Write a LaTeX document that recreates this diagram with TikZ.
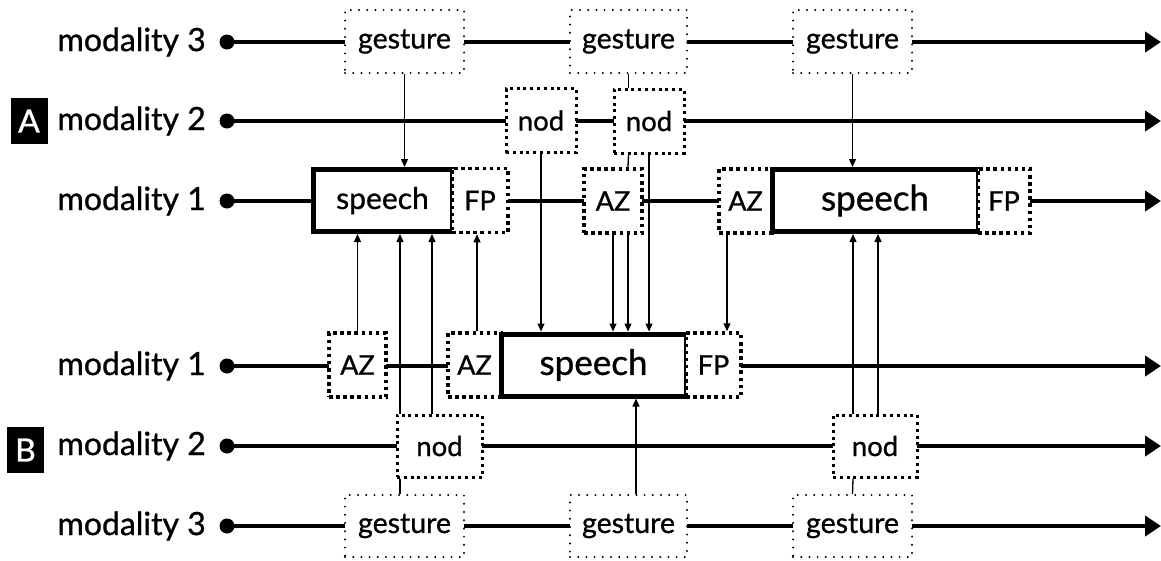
\documentclass[tikz,border=0pt]{standalone}
\usepackage{fontspec}
\setmainfont{Lato}[FakeBold=0.9]
\usetikzlibrary{arrows.meta}
\begin{document}
\begin{tikzpicture}[x=1pt,y=-1pt,
  fs/.style={font=\fontsize{#1}{#1}\selectfont},
  lbl/.style={anchor=east,inner sep=0pt,fs=32},
  tag/.style={fill=black,text=white,inner sep=0pt,minimum width=37pt,minimum height=46pt,fs=32},
  startdot/.style={circle,fill=black,inner sep=0pt,minimum size=15pt},
  timeline/.style={line width=4pt,-{Triangle[length=16pt,width=20pt]}},
  box/.style={fill=white,inner sep=0pt,minimum height=64pt},
  gbox/.style={box,draw,line width=2.2pt,line cap=round,dash pattern=on 0pt off 8.2pt,fs=28.5,minimum height=63pt},
  nbox/.style={box,draw,line width=3pt,dash pattern=on 3pt off 3.8pt,fs=27.5},
  zbox/.style={box,draw,line width=3.5pt,dash pattern=on 3.5pt off 3.6pt,fs=27},
  sbox/.style={box,draw,line width=5pt,minimum height=62pt},
  thin/.style={line width=1.3pt},
  arr/.style={thin,-{Triangle[length=8pt,width=7pt]}}
]
\useasboundingbox (0,0) rectangle (1161,560);
% ---------- labels ----------
\node[tag] (tagA) at (29,121) {A};
\node[tag] (tagB) at (25.5,450) {B};
\node[lbl] (lA3) at (206,42) {modality 3};
\node[lbl] (lA2) at (206,121) {modality 2};
\node[lbl] (lA1) at (206,201) {modality 1};
\node[lbl] (lB1) at (206,366) {modality 1};
\node[lbl] (lB2) at (206,446) {modality 2};
\node[lbl] (lB3) at (206,526) {modality 3};
% ---------- timelines ----------
\foreach \n/\y in {A3/42,A2/121,A1/201,B1/366,B2/446,B3/526}{
  \node[startdot] (d\n) at (227,\y) {};
  \coordinate (e\n) at (1161,\y);
  \draw[timeline] (d\n.center) -- (e\n);
}
% ---------- A boxes ----------
\node[gbox,minimum width=119pt] (gA1) at (404.5,41.5) {gesture};
\node[gbox,minimum width=117pt] (gA2) at (628.5,41.5) {gesture};
\node[gbox,minimum width=119pt] (gA3) at (852.5,41.5) {gesture};
\node[nbox,minimum width=70pt] (nA1) at (541,120.5) {nod};
\node[nbox,minimum width=70pt] (nA2) at (649,121) {nod};
\node[sbox,minimum width=139pt,fs=30] (sA1) at (382.5,200.5) {speech};
\node[zbox,minimum width=56pt] (fA1) at (480,200.5) {FP};
\node[zbox,minimum width=58pt] (zA1) at (613,201) {AZ};
\node[zbox,minimum width=53pt] (zA2) at (745.5,201) {AZ};
\node[sbox,minimum width=206pt,fs=35] (sA2) at (875,200.5) {speech};
\node[zbox,minimum width=52pt] (fA2) at (1004,201) {FP};
% ---------- B boxes ----------
\node[zbox,minimum width=57pt] (zB1) at (357.5,365) {AZ};
\node[zbox,minimum width=53pt] (zB2) at (474.5,365) {AZ};
\node[sbox,minimum width=185pt,fs=35] (sB) at (593.5,365) {speech};
\node[zbox,minimum width=55pt] (fB) at (713.5,365) {FP};
\node[nbox,minimum width=85pt,minimum height=62pt] (nB1) at (439.5,446) {nod};
\node[nbox,minimum width=84pt,minimum height=62pt] (nB2) at (875,446) {nod};
\node[gbox,minimum width=119pt,minimum height=62pt] (gB1) at (404.5,526) {gesture};
\node[gbox,minimum width=117pt,minimum height=62pt] (gB2) at (628.5,526) {gesture};
\node[gbox,minimum width=119pt,minimum height=62pt] (gB3) at (852.5,526) {gesture};
% ---------- connectors, A to A/B ----------
\draw[arr] (gA1.south) -- (gA1.south |- sA1.north);
\draw[thin] (gA2.south) -- ([xshift=-20.5pt]nA2.north);
\draw[thin] ([xshift=-20.5pt]nA2.south) -- ([xshift=15pt]zA1.north);
\draw[arr] (zA1.south) -- (zA1.south |- sB.north);
\draw[arr] ([xshift=15pt]zA1.south) -- ([xshift=15pt]zA1.south |- sB.north);
\draw[arr] (nA2.south) -- (nA2.south |- sB.north);
\draw[arr] (nA1.south) -- (nA1.south |- sB.north);
\draw[arr] (gA3.south) -- (gA3.south |- sA2.north);
\draw[arr] ([xshift=-18.5pt]zA2.south) -- ([xshift=-18.5pt]zA2.south |- fB.north);
% ---------- connectors, B to A/B ----------
\draw[arr] (zB1.north) -- (zB1.north |- sA1.south);
\draw[arr] ([xshift=-39.5pt]nB1.north) -- ([xshift=-39.5pt]nB1.north |- sA1.south);
\draw[arr] ([xshift=-7.5pt]nB1.north) -- ([xshift=-7.5pt]nB1.north |- sA1.south);
\draw[thin] ([xshift=-4.5pt]gB1.north) -- ([xshift=-39.5pt]nB1.south);
\draw[arr] ([xshift=2.5pt]zB2.north) -- ([xshift=2.5pt]zB2.north |- fA1.south);
\draw[arr] ([xshift=7.5pt]gB2.north) -- ([xshift=7.5pt]gB2.north |- sB.south);
\draw[thin] (gB3.north) -- ([xshift=-22pt]nB2.south);
\draw[arr] ([xshift=-22pt]nB2.north) -- ([xshift=-22pt]nB2.north |- sA2.south);
\draw[arr] ([xshift=3pt]nB2.north) -- ([xshift=3pt]nB2.north |- sA2.south);
\end{tikzpicture}
\end{document}
